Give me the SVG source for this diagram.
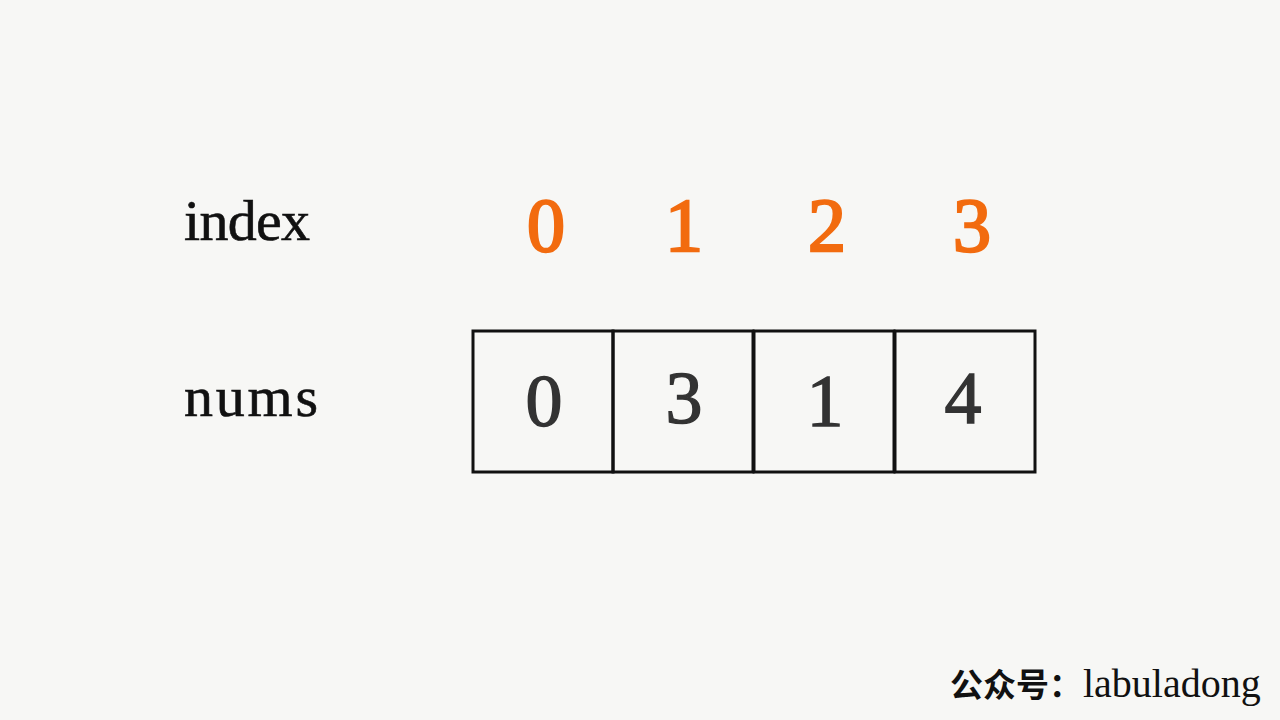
<svg xmlns="http://www.w3.org/2000/svg" width="1280" height="720" viewBox="0 0 1280 720">
<style>
.lbl{font-family:"Liberation Serif","DejaVu Serif",serif;font-size:58px;fill:#111;stroke:#111;stroke-width:0.6}
.idx{font-family:"Liberation Serif","DejaVu Serif",serif;font-size:76px;fill:#f26b0f;stroke:#f26b0f;stroke-width:2.4;text-anchor:middle}
.val{font-family:"Liberation Serif","DejaVu Serif",serif;font-size:74px;fill:#333;stroke:#333;stroke-width:1.4;text-anchor:middle}
.cell{fill:none;stroke:#111;stroke-width:3}
.wm{font-family:"Liberation Serif","Noto Sans CJK SC",serif;font-size:40px;fill:#111}
</style>
<rect width="1280" height="720" fill="#f7f7f5"/>
<g id="labels">
<text class="lbl" x="184" y="240" textLength="126">index</text>
<text class="lbl" x="184" y="416" textLength="134">nums</text>
</g>
<g id="indices">
<text class="idx" x="546" y="251">0</text>
<text class="idx" x="684" y="251">1</text>
<text class="idx" x="827" y="251">2</text>
<text class="idx" x="972" y="251">3</text>
</g>
<g id="cell0"><rect class="cell" x="473" y="331" width="140" height="141"/><text class="val" x="544" y="426">0</text></g>
<g id="cell1"><rect class="cell" x="613" y="331" width="140" height="141"/><text class="val" x="684" y="423">3</text></g>
<g id="cell2"><rect class="cell" x="754" y="331" width="140" height="141"/><text class="val" x="825" y="426">1</text></g>
<g id="cell3"><rect class="cell" x="895" y="331" width="140" height="141"/><text class="val" x="963" y="423">4</text></g>
<g id="connectors"></g>
<g id="watermark">
<text class="wm" x="950" y="697"><tspan font-family="Noto Sans CJK SC,sans-serif" font-weight="bold" font-size="33">公众号：</tspan><tspan x="1083">labuladong</tspan></text>
</g>
</svg>
